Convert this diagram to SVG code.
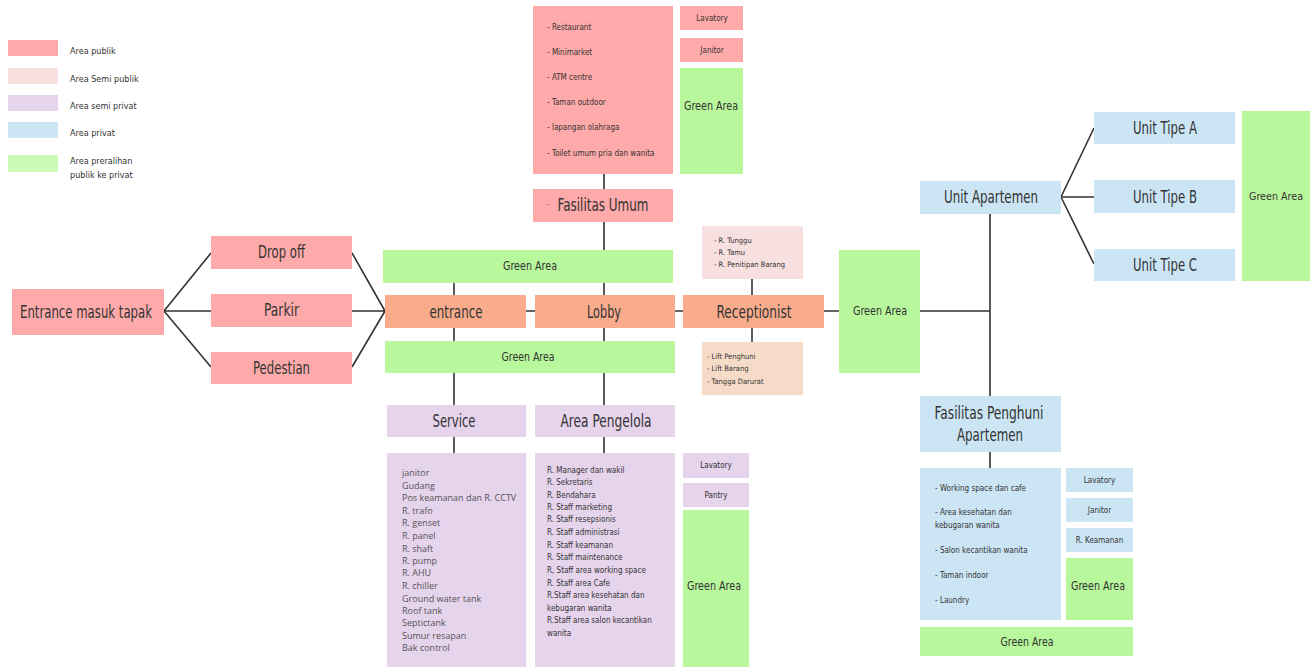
<svg xmlns="http://www.w3.org/2000/svg" width="1312" height="667" viewBox="0 0 1312 667">
<style>
text{font-family:"Liberation Sans Narrow","DejaVu Sans Condensed","Liberation Sans",sans-serif;fill:#333}
.pub{fill:#FFAAAA}
.spub{fill:#F8E0E0}
.spriv{fill:#E6D3EC}
.priv{fill:#CCE5F5}
.grn{fill:#B8F79C}
.lgrn{fill:#CCFBB8}
.org{fill:#F8AC8C}
.peach{fill:#F6DCC8}
.big{font-size:17px;text-anchor:middle}
.mid{font-size:13px;text-anchor:middle}
.sm{font-size:8px}
.smc{font-size:8px;text-anchor:middle}
.srv{font-family:"Open Sans","DejaVu Sans",sans-serif;font-size:9px;fill:#555}
.lg{font-size:9px}
.ln{stroke:#333;stroke-width:1.6;fill:none}
</style>
<rect width="1312" height="667" fill="#fff"/>
<g id="connectors">
<path class="ln" d="M164 311 L211 253 M164 311 L211 311 M164 311 L211 367"/>
<path class="ln" d="M352 253 L385 311 M352 311 L385 311 M352 367 L385 311"/>
<path class="ln" d="M604 174 V296 M604 328 V405 M604 437 V453"/>
<path class="ln" d="M454 282 V296 M454 328 V405 M454 437 V453"/>
<path class="ln" d="M526 311 H535 M675 311 H683 M824 311 H839"/>
<path class="ln" d="M752 279 V296 M752 328 V342"/>
<path class="ln" d="M920 311 H990 M990 214 V396 M990 452 V468"/>
<path class="ln" d="M1061 197 L1094 128 M1061 197 L1094 197 M1061 197 L1094 264"/>
</g>
<g id="legend">
<rect class="pub" x="8" y="40" width="50" height="16"/><text class="lg" x="70" y="54">Area publik</text>
<rect class="spub" x="8" y="68" width="50" height="16"/><text class="lg" x="70" y="82">Area Semi publik</text>
<rect class="spriv" x="8" y="95" width="50" height="16"/><text class="lg" x="70" y="109">Area semi privat</text>
<rect class="priv" x="8" y="122" width="50" height="16"/><text class="lg" x="70" y="136">Area privat</text>
<rect class="lgrn" x="8" y="155" width="50" height="17"/><text class="lg" x="70" y="164">Area preralihan</text><text class="lg" x="70" y="178">publik ke privat</text>
</g>
<g id="fasum-list">
<rect class="pub" x="533" y="6" width="140" height="168"/>
<text class="sm" x="547" y="30">- Restaurant</text>
<text class="sm" x="547" y="55">- Minimarket</text>
<text class="sm" x="547" y="80">- ATM centre</text>
<text class="sm" x="547" y="105">- Taman outdoor</text>
<text class="sm" x="547" y="130">- lapangan olahraga</text>
<text class="sm" x="547" y="156">- Toilet umum pria dan wanita</text>
</g>
<g id="fasum-lavatory"><rect class="pub" x="680" y="6" width="63" height="24"/><text class="smc" x="712" y="21">Lavatory</text></g>
<g id="fasum-janitor"><rect class="pub" x="680" y="38" width="63" height="24"/><text class="smc" x="712" y="53">Janitor</text></g>
<g id="fasum-green"><rect class="grn" x="680" y="68" width="63" height="106"/><text class="mid" x="711" y="110" textLength="54" lengthAdjust="spacingAndGlyphs">Green Area</text></g>
<g id="fasilitas-umum"><rect class="pub" x="533" y="189" width="140" height="33"/><text class="sm" x="547" y="208">·</text><text class="big" x="603" y="211" textLength="91" lengthAdjust="spacingAndGlyphs">Fasilitas Umum</text></g>
<g id="entrance-tapak"><rect class="pub" x="12" y="289" width="152" height="46"/><text class="big" x="86" y="318" textLength="132" lengthAdjust="spacingAndGlyphs">Entrance masuk tapak</text></g>
<g id="dropoff"><rect class="pub" x="211" y="236" width="141" height="33"/><text class="big" x="281.5" y="258" textLength="47" lengthAdjust="spacingAndGlyphs">Drop off</text></g>
<g id="parkir"><rect class="pub" x="211" y="294" width="141" height="33"/><text class="big" x="281.5" y="316" textLength="35" lengthAdjust="spacingAndGlyphs">Parkir</text></g>
<g id="pedestian"><rect class="pub" x="211" y="352" width="141" height="32"/><text class="big" x="281.5" y="374" textLength="57" lengthAdjust="spacingAndGlyphs">Pedestian</text></g>
<g id="green-top"><rect class="grn" x="383" y="250" width="290" height="33"/><text class="mid" x="530" y="270" textLength="54" lengthAdjust="spacingAndGlyphs">Green Area</text></g>
<g id="entrance"><rect class="org" x="385" y="295" width="141" height="33"/><text class="big" x="456" y="318" style="font-size:18px" textLength="53" lengthAdjust="spacingAndGlyphs">entrance</text></g>
<g id="lobby"><rect class="org" x="535" y="295" width="140" height="33"/><text class="big" x="604" y="318" style="font-size:18px" textLength="34" lengthAdjust="spacingAndGlyphs">Lobby</text></g>
<g id="receptionist"><rect class="org" x="683" y="295" width="141" height="33"/><text class="big" x="754" y="318" style="font-size:18px" textLength="75" lengthAdjust="spacingAndGlyphs">Receptionist</text></g>
<g id="green-mid"><rect class="grn" x="385" y="341" width="290" height="32"/><text class="mid" x="528" y="361" textLength="53" lengthAdjust="spacingAndGlyphs">Green Area</text></g>
<g id="recep-top"><rect class="spub" x="702" y="226" width="101" height="53"/>
<text class="sm" x="714" y="243" style="font-size:7.5px">- R. Tunggu</text>
<text class="sm" x="714" y="255" style="font-size:7.5px">- R. Tamu</text>
<text class="sm" x="714" y="267" style="font-size:7.5px">- R. Penitipan Barang</text></g>
<g id="recep-bottom"><rect class="peach" x="702" y="342" width="101" height="53"/>
<text class="sm" x="707" y="359" style="font-size:7.5px">- Lift Penghuni</text>
<text class="sm" x="707" y="371" style="font-size:7.5px">- Lift Barang</text>
<text class="sm" x="707" y="384" style="font-size:7.5px">- Tangga Darurat</text></g>
<g id="green-right"><rect class="grn" x="839" y="250" width="81" height="123"/><text class="mid" x="880" y="315" textLength="54" lengthAdjust="spacingAndGlyphs">Green Area</text></g>
<g id="unit-apartemen"><rect class="priv" x="920" y="181" width="141" height="33"/><text class="big" x="991" y="203" textLength="94" lengthAdjust="spacingAndGlyphs">Unit Apartemen</text></g>
<g id="unit-a"><rect class="priv" x="1094" y="112" width="141" height="32"/><text class="big" x="1165" y="134" textLength="64" lengthAdjust="spacingAndGlyphs">Unit Tipe A</text></g>
<g id="unit-b"><rect class="priv" x="1094" y="180" width="141" height="33"/><text class="big" x="1165" y="203" textLength="64" lengthAdjust="spacingAndGlyphs">Unit Tipe B</text></g>
<g id="unit-c"><rect class="priv" x="1094" y="249" width="141" height="32"/><text class="big" x="1165" y="271" textLength="64" lengthAdjust="spacingAndGlyphs">Unit Tipe C</text></g>
<g id="unit-green"><rect class="grn" x="1242" y="111" width="68" height="170"/><text class="mid" x="1276" y="200" style="font-size:11px" textLength="54" lengthAdjust="spacingAndGlyphs">Green Area</text></g>
<g id="fasilitas-penghuni"><rect class="priv" x="920" y="396" width="141" height="56"/>
<text class="big" x="989" y="419" textLength="109" lengthAdjust="spacingAndGlyphs">Fasilitas Penghuni</text>
<text class="big" x="990" y="441" textLength="66" lengthAdjust="spacingAndGlyphs">Apartemen</text></g>
<g id="penghuni-list"><rect class="priv" x="920" y="468" width="141" height="152"/>
<text class="sm" x="935" y="491">- Working space dan cafe</text>
<text class="sm" x="935" y="515">- Area kesehatan dan</text>
<text class="sm" x="935" y="528">kebugaran wanita</text>
<text class="sm" x="935" y="553">- Salon kecantikan wanita</text>
<text class="sm" x="935" y="578">- Taman indoor</text>
<text class="sm" x="935" y="603">- Laundry</text></g>
<g id="penghuni-lavatory"><rect class="priv" x="1066" y="468" width="67" height="24"/><text class="smc" x="1099.5" y="483">Lavatory</text></g>
<g id="penghuni-janitor"><rect class="priv" x="1066" y="498" width="67" height="24"/><text class="smc" x="1099.5" y="513">Janitor</text></g>
<g id="penghuni-keamanan"><rect class="priv" x="1066" y="528" width="67" height="24"/><text class="smc" x="1099.5" y="543">R. Keamanan</text></g>
<g id="penghuni-green"><rect class="grn" x="1066" y="558" width="67" height="62"/><text class="mid" x="1098" y="590" textLength="54" lengthAdjust="spacingAndGlyphs">Green Area</text></g>
<g id="penghuni-green-bottom"><rect class="grn" x="920" y="627" width="213" height="29"/><text class="mid" x="1027" y="646" textLength="53" lengthAdjust="spacingAndGlyphs">Green Area</text></g>
<g id="service"><rect class="spriv" x="387" y="405" width="139" height="32"/><text class="big" x="454" y="427" textLength="43" lengthAdjust="spacingAndGlyphs">Service</text></g>
<g id="area-pengelola"><rect class="spriv" x="535" y="405" width="140" height="32"/><text class="big" x="606" y="427" textLength="91" lengthAdjust="spacingAndGlyphs">Area Pengelola</text></g>
<g id="service-list"><rect class="spriv" x="387" y="453" width="139" height="214"/>
<text class="srv" x="402" y="476">janitor</text>
<text class="srv" x="402" y="489">Gudang</text>
<text class="srv" x="402" y="501">Pos keamanan dan R. CCTV</text>
<text class="srv" x="402" y="514">R. trafo</text>
<text class="srv" x="402" y="526">R. genset</text>
<text class="srv" x="402" y="539">R. panel</text>
<text class="srv" x="402" y="552">R. shaft</text>
<text class="srv" x="402" y="564">R. pump</text>
<text class="srv" x="402" y="576">R. AHU</text>
<text class="srv" x="402" y="589">R. chiller</text>
<text class="srv" x="402" y="602">Ground water tank</text>
<text class="srv" x="402" y="614">Roof tank</text>
<text class="srv" x="402" y="626">Septictank</text>
<text class="srv" x="402" y="639">Sumur resapan</text>
<text class="srv" x="402" y="651">Bak control</text></g>
<g id="pengelola-list"><rect class="spriv" x="535" y="453" width="140" height="214"/>
<text class="sm" x="547" y="473">R. Manager dan wakil</text>
<text class="sm" x="547" y="485">R. Sekretaris</text>
<text class="sm" x="547" y="498">R. Bendahara</text>
<text class="sm" x="547" y="510">R. Staff marketing</text>
<text class="sm" x="547" y="522">R. Staff resepsionis</text>
<text class="sm" x="547" y="535">R. Staff administrasi</text>
<text class="sm" x="547" y="548">R. Staff keamanan</text>
<text class="sm" x="547" y="560">R. Staff maintenance</text>
<text class="sm" x="547" y="573">R, Staff area working space</text>
<text class="sm" x="547" y="586">R. Staff area Cafe</text>
<text class="sm" x="547" y="598">R.Staff area kesehatan dan</text>
<text class="sm" x="547" y="611">kebugaran wanita</text>
<text class="sm" x="547" y="623">R.Staff area salon kecantikan</text>
<text class="sm" x="547" y="636">wanita</text></g>
<g id="pengelola-lavatory"><rect class="spriv" x="683" y="453" width="66" height="25"/><text class="smc" x="716" y="468">Lavatory</text></g>
<g id="pengelola-pantry"><rect class="spriv" x="683" y="483" width="66" height="24"/><text class="smc" x="716" y="498">Pantry</text></g>
<g id="pengelola-green"><rect class="grn" x="683" y="510" width="66" height="157"/><text class="mid" x="714" y="590" textLength="54" lengthAdjust="spacingAndGlyphs">Green Area</text></g>
</svg>
